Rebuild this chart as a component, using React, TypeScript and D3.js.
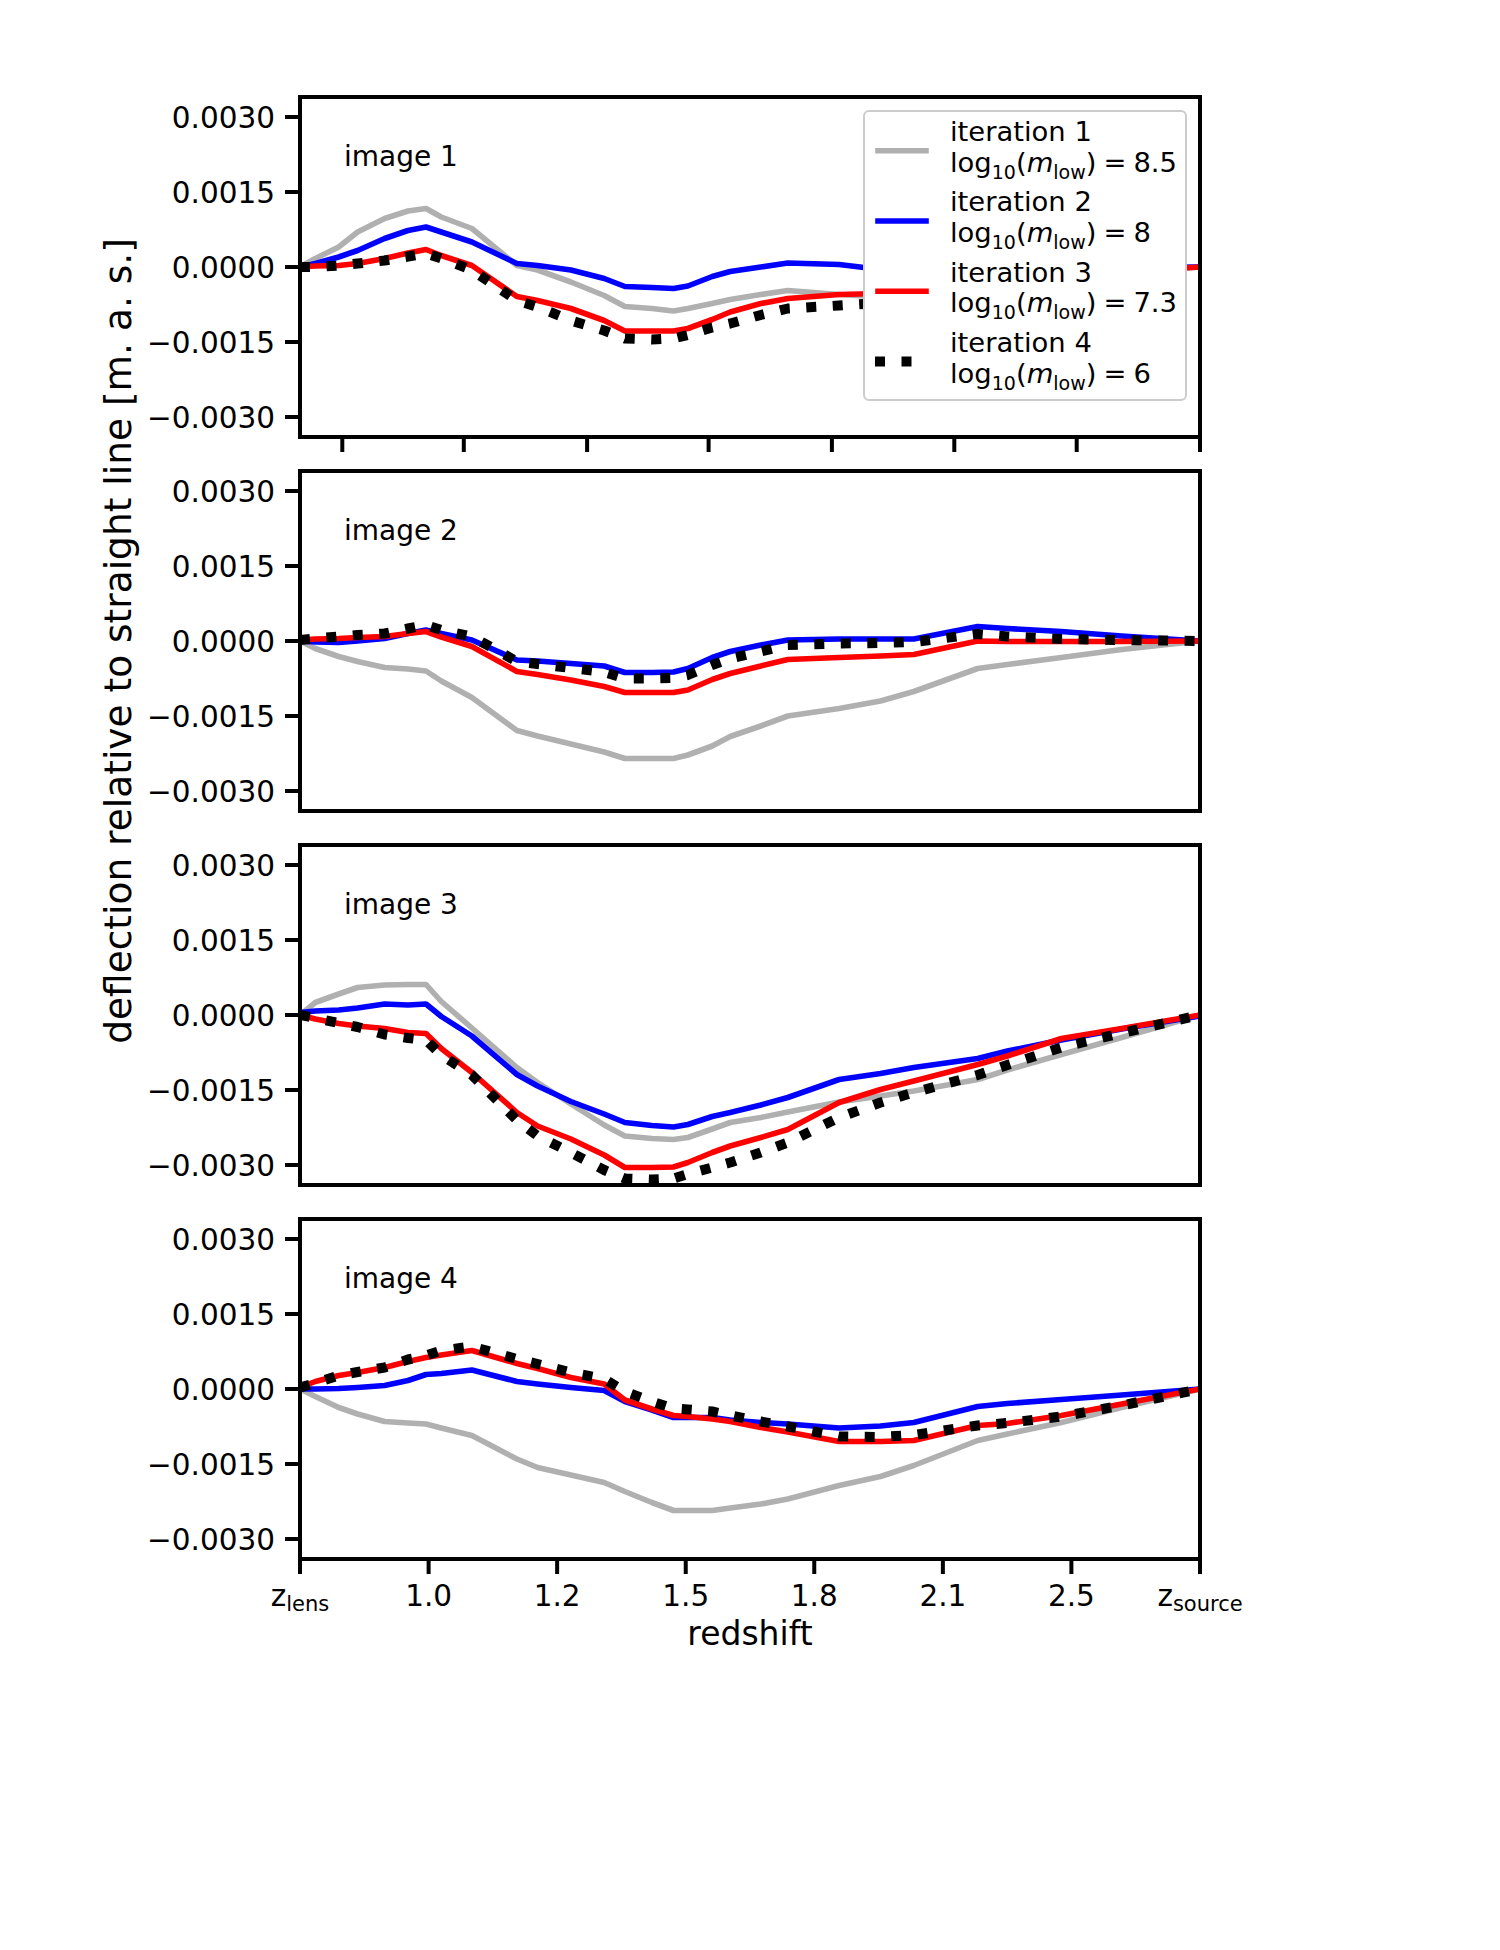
import * as d3 from "d3";

// redshift grid, as fraction of the way from z_lens to z_source
const zGrid = [0, 0.017, 0.043, 0.064, 0.094, 0.12, 0.14, 0.157, 0.191, 0.241, 0.264, 0.301, 0.338, 0.361, 0.391, 0.415, 0.431, 0.458, 0.478, 0.512, 0.542, 0.599, 0.645, 0.682, 0.753, 0.786, 0.846, 0.913, 1.0];

// deflection values in units of 1e-3 m.a.s.
// image 1
const img1Iter1 = [0, 0.17, 0.4, 0.7, 0.97, 1.12, 1.17, 1.0, 0.77, 0.03, -0.06, -0.3, -0.57, -0.79, -0.83, -0.88, -0.83, -0.73, -0.65, -0.55, -0.47, -0.55, -0.6, -0.58, -0.45, -0.38, -0.25, -0.12, 0];
const img1Iter2 = [0, 0.07, 0.2, 0.33, 0.57, 0.73, 0.8, 0.7, 0.5, 0.07, 0.03, -0.06, -0.23, -0.39, -0.41, -0.43, -0.38, -0.19, -0.09, 0, 0.08, 0.05, -0.05, -0.08, -0.05, -0.04, -0.03, -0.01, 0];
const img1Iter3 = [0, 0.02, 0.03, 0.07, 0.17, 0.28, 0.35, 0.23, 0.03, -0.59, -0.67, -0.83, -1.07, -1.28, -1.28, -1.28, -1.23, -1.05, -0.9, -0.73, -0.63, -0.55, -0.53, -0.5, -0.4, -0.33, -0.22, -0.1, 0];
const img1Iter4 = [0, 0, 0.03, 0.07, 0.13, 0.21, 0.27, 0.17, -0.06, -0.67, -0.8, -1.07, -1.27, -1.43, -1.45, -1.43, -1.36, -1.21, -1.13, -0.96, -0.83, -0.77, -0.72, -0.68, -0.55, -0.45, -0.3, -0.15, 0];
// image 2
const img2Iter1 = [0, -0.15, -0.31, -0.41, -0.53, -0.56, -0.6, -0.8, -1.13, -1.79, -1.9, -2.06, -2.22, -2.35, -2.35, -2.35, -2.28, -2.1, -1.91, -1.7, -1.5, -1.35, -1.2, -1.01, -0.55, -0.47, -0.33, -0.17, 0];
const img2Iter2 = [0, -0.02, -0.03, 0, 0.05, 0.15, 0.22, 0.15, 0.02, -0.38, -0.4, -0.45, -0.5, -0.63, -0.63, -0.62, -0.55, -0.33, -0.21, -0.08, 0.02, 0.04, 0.04, 0.04, 0.29, 0.25, 0.19, 0.1, 0];
const img2Iter3 = [0.02, 0.04, 0.05, 0.07, 0.09, 0.15, 0.19, 0.08, -0.11, -0.61, -0.67, -0.78, -0.91, -1.03, -1.03, -1.03, -0.98, -0.77, -0.65, -0.5, -0.37, -0.33, -0.3, -0.27, 0, -0.01, -0.01, -0.01, 0];
const img2Iter4 = [0.02, 0.05, 0.09, 0.12, 0.15, 0.25, 0.32, 0.22, 0.09, -0.41, -0.46, -0.54, -0.62, -0.75, -0.75, -0.74, -0.68, -0.48, -0.35, -0.21, -0.08, -0.05, -0.04, -0.02, 0.14, 0.09, 0.04, 0.02, 0];
// image 3
const img3Iter1 = [0, 0.25, 0.42, 0.55, 0.6, 0.61, 0.61, 0.27, -0.26, -1.05, -1.35, -1.78, -2.2, -2.42, -2.47, -2.49, -2.45, -2.28, -2.15, -2.05, -1.94, -1.74, -1.62, -1.52, -1.29, -1.1, -0.79, -0.45, 0];
const img3Iter2 = [0.05, 0.08, 0.1, 0.14, 0.22, 0.2, 0.22, -0.03, -0.42, -1.19, -1.42, -1.73, -1.98, -2.15, -2.21, -2.24, -2.19, -2.03, -1.95, -1.8, -1.65, -1.29, -1.17, -1.05, -0.87, -0.72, -0.5, -0.28, -0.02];
const img3Iter3 = [0, -0.08, -0.17, -0.22, -0.27, -0.35, -0.37, -0.67, -1.15, -1.95, -2.22, -2.48, -2.8, -3.05, -3.05, -3.04, -2.95, -2.75, -2.62, -2.45, -2.29, -1.75, -1.49, -1.32, -0.99, -0.82, -0.47, -0.27, 0];
const img3Iter4 = [0, -0.06, -0.16, -0.24, -0.39, -0.46, -0.5, -0.8, -1.2, -2.1, -2.42, -2.75, -3.1, -3.27, -3.29, -3.27, -3.18, -3.05, -2.95, -2.75, -2.55, -2.05, -1.75, -1.55, -1.2, -1.0, -0.65, -0.36, 0];
// image 4
const img4Iter1 = [0, -0.15, -0.37, -0.5, -0.65, -0.68, -0.7, -0.78, -0.93, -1.4, -1.57, -1.72, -1.87, -2.05, -2.27, -2.43, -2.43, -2.43, -2.38, -2.3, -2.2, -1.93, -1.75, -1.53, -1.03, -0.9, -0.67, -0.37, 0];
const img4Iter2 = [0, 0, 0.01, 0.03, 0.07, 0.17, 0.29, 0.31, 0.38, 0.15, 0.1, 0.03, -0.03, -0.25, -0.42, -0.57, -0.57, -0.57, -0.62, -0.67, -0.7, -0.78, -0.74, -0.67, -0.35, -0.29, -0.21, -0.12, 0];
const img4Iter3 = [0.03, 0.15, 0.27, 0.33, 0.43, 0.55, 0.63, 0.68, 0.77, 0.51, 0.41, 0.23, 0.1, -0.22, -0.4, -0.53, -0.55, -0.6, -0.65, -0.77, -0.86, -1.05, -1.05, -1.03, -0.73, -0.69, -0.53, -0.3, 0];
const img4Iter4 = [0.03, 0.12, 0.27, 0.34, 0.43, 0.59, 0.67, 0.77, 0.85, 0.6, 0.5, 0.33, 0.2, -0.05, -0.25, -0.39, -0.41, -0.45, -0.53, -0.65, -0.75, -0.95, -0.96, -0.92, -0.73, -0.68, -0.55, -0.33, 0];

const imageNames = ["image 1", "image 2", "image 3", "image 4"];
const iterNames = ["iteration 1", "iteration 2", "iteration 3", "iteration 4"];
const mLow = ["8.5", "8", "7.3", "6"];

const yTicks = [3, 1.5, 0, -1.5, -3];
const bottomTicks = [0, 0.1429, 0.2857, 0.4286, 0.5714, 0.7143, 0.8571, 1];
const bottomTickLabels = ["lens", "1.0", "1.2", "1.5", "1.8", "2.1", "2.5", "source"];
const topPanelTicks = [0.047, 0.182, 0.319, 0.454, 0.591, 0.727, 0.863, 1.0];

const panelData = [
  [img1Iter1, img1Iter2, img1Iter3, img1Iter4],
  [img2Iter1, img2Iter2, img2Iter3, img2Iter4],
  [img3Iter1, img3Iter2, img3Iter3, img3Iter4],
  [img4Iter1, img4Iter2, img4Iter3, img4Iter4],
];

const FONT = "DejaVu Sans";
const colors = ["#b0b0b0", "#0000ff", "#ff0000", "#000000"];
const plotLeft = 300;
const plotWidth = 900;
const panelH = 340;
const panelTops = [97, 471, 845, 1219];

const fmt = (v: number) => {
  const s = Math.abs(v / 1000).toFixed(4);
  return v < 0 ? "\u2212" + s : s;
};

function LogLabel({ x, y, value }: { x: number; y: number; value: string }) {
  const sub = 19;
  return (
    <text x={x} y={y} fontSize={27.4}>
      log
      <tspan dy={7} fontSize={sub}>10</tspan>
      <tspan dy={-7}>(</tspan>
      <tspan fontStyle="italic">m</tspan>
      <tspan dy={7} fontSize={sub}>low</tspan>
      <tspan dy={-7}>)</tspan>
      <tspan dx={7}>=</tspan>
      <tspan dx={7}>{value}</tspan>
    </text>
  );
}

export default function App() {
  const x = d3.scaleLinear().domain([0, 1]).range([plotLeft, plotLeft + plotWidth]);

  return (
    <svg
      width={1500}
      height={1950}
      style={{ position: "absolute", left: 0, top: 0, background: "#fff" }}
      fontFamily={FONT}
    >
      <defs>
        {panelTops.map((top, i) => (
          <clipPath id={"clip" + i} key={i}>
            <rect x={plotLeft} y={top} width={plotWidth} height={panelH} />
          </clipPath>
        ))}
      </defs>

      {panelData.map((series, i) => {
        const top = panelTops[i];
        const y = d3.scaleLinear().domain([-3.4, 3.4]).range([top + panelH, top]);
        const line = d3
          .line<number>()
          .x((_, j) => x(zGrid[j]))
          .y((v) => y(v));
        return (
          <g key={i}>
            <g clipPath={`url(#clip${i})`}>
              {series.map((vals, k) => (
                <path
                  key={k}
                  d={line(vals) || ""}
                  fill="none"
                  stroke={colors[k]}
                  strokeWidth={k === 3 ? 10 : 5.6}
                  strokeDasharray={k === 3 ? "10 16.5" : undefined}
                  strokeLinecap={k === 3 ? "butt" : "square"}
                  strokeLinejoin="round"
                />
              ))}
            </g>
            <text x={344} y={top + 69} fontSize={28}>
              {imageNames[i]}
            </text>
            {yTicks.map((t) => (
              <g key={t}>
                <line x1={plotLeft - 15} x2={plotLeft} y1={y(t)} y2={y(t)} stroke="#000" strokeWidth={4} />
                <text x={plotLeft - 25} y={y(t) + 10.5} textAnchor="end" fontSize={29.5}>
                  {fmt(t)}
                </text>
              </g>
            ))}
            {i === 0 &&
              topPanelTicks.map((t) => (
                <line key={t} x1={x(t)} x2={x(t)} y1={top + panelH} y2={top + panelH + 15} stroke="#000" strokeWidth={4} />
              ))}
            {i === 3 &&
              bottomTicks.map((t, k) => {
                const lab = bottomTickLabels[k];
                const isZ = k === 0 || k === bottomTicks.length - 1;
                return (
                  <g key={k}>
                    <line x1={x(t)} x2={x(t)} y1={top + panelH} y2={top + panelH + 15} stroke="#000" strokeWidth={4} />
                    <text x={x(t)} y={1606} textAnchor="middle" fontSize={29.5}>
                      {isZ ? (
                        <>
                          z<tspan dy={5} fontSize={21}>{lab}</tspan>
                        </>
                      ) : (
                        lab
                      )}
                    </text>
                  </g>
                );
              })}
            <rect x={plotLeft} y={top} width={plotWidth} height={panelH} fill="none" stroke="#000" strokeWidth={4} />
          </g>
        );
      })}

      {/* legend */}
      <g>
        <rect x={864} y={111} width={322} height={289} rx={5} fill="#fff" stroke="#cccccc" strokeWidth={2} />
        {iterNames.map((name, k) => {
          const hy = 150.7 + 70.3 * k;
          return (
            <g key={k}>
              <line
                x1={k === 3 ? 875 : 878}
                x2={k === 3 ? 928 : 926}
                y1={hy}
                y2={hy}
                stroke={colors[k]}
                strokeWidth={k === 3 ? 10 : 5.6}
                strokeDasharray={k === 3 ? "10 16.5" : undefined}
                strokeLinecap={k === 3 ? "butt" : "square"}
              />
              <text x={950} y={hy - 9.7} fontSize={27.4}>
                {name}
              </text>
              <LogLabel x={950} y={hy + 21} value={mLow[k]} />
            </g>
          );
        })}
      </g>

      <text transform="translate(131,641) rotate(-90)" textAnchor="middle" fontSize={37.5}>
        deflection relative to straight line [m. a. s.]
      </text>
      <text x={750} y={1645} textAnchor="middle" fontSize={33}>
        redshift
      </text>
    </svg>
  );
}
